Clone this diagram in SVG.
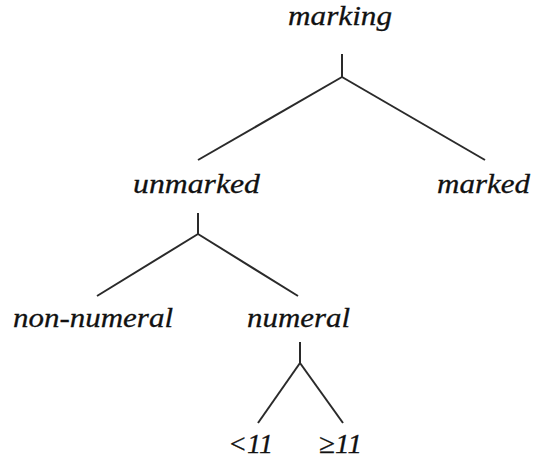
<svg xmlns="http://www.w3.org/2000/svg" width="533" height="460" viewBox="0 0 533 460">
<style>
text{font-family:"Liberation Serif","Times New Roman",serif;font-style:italic;font-size:28px;fill:#111;stroke:#111;stroke-width:0.3}
line{stroke:#2a2a2a;stroke-width:2;stroke-linecap:butt}
</style>
<rect width="533" height="460" fill="#fff"/>
<g id="connectors">
<line x1="342" y1="54" x2="342" y2="77"/>
<line x1="342" y1="77" x2="198" y2="160"/>
<line x1="342" y1="77" x2="485" y2="160"/>
<line x1="198" y1="213" x2="198" y2="234"/>
<line x1="198" y1="234" x2="97" y2="296"/>
<line x1="198" y1="234" x2="298" y2="296"/>
<line x1="300" y1="342" x2="300" y2="363"/>
<line x1="300" y1="363" x2="258" y2="423"/>
<line x1="300" y1="363" x2="343" y2="423"/>
</g>
<g id="marking"><text x="288" y="25" textLength="104" lengthAdjust="spacingAndGlyphs">marking</text></g>
<g id="unmarked"><text x="133" y="193" textLength="127" lengthAdjust="spacingAndGlyphs">unmarked</text></g>
<g id="marked"><text x="437" y="193" textLength="93" lengthAdjust="spacingAndGlyphs">marked</text></g>
<g id="non-numeral"><text x="13" y="327" textLength="160" lengthAdjust="spacingAndGlyphs">non-numeral</text></g>
<g id="numeral"><text x="247" y="327" textLength="103" lengthAdjust="spacingAndGlyphs">numeral</text></g>
<g id="lt11"><text x="228" y="453" textLength="45" lengthAdjust="spacingAndGlyphs">&lt;11</text></g>
<g id="ge11"><text x="319" y="453" textLength="43" lengthAdjust="spacingAndGlyphs">≥11</text></g>
</svg>
